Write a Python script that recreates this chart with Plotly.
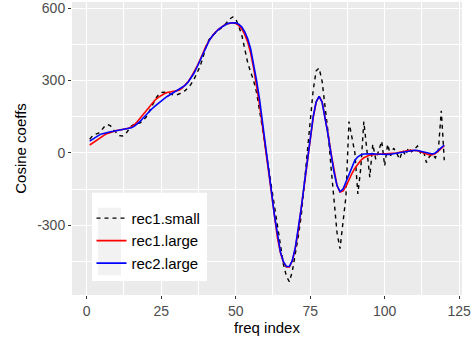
import plotly.graph_objects as go

freq = list(range(1, 121))

rec1_small = [
    57, 72, 78, 82, 95, 110, 118, 112, 95, 82,
    72, 70, 78, 95, 112, 120, 124, 125, 135, 150,
    172, 198, 222, 240, 250, 252, 250, 245, 240, 240,
    244, 250, 258, 270, 285, 305, 330, 357, 395, 440,
    468, 485, 496, 505, 515, 526, 540, 555, 563, 555,
    525, 490, 433, 375, 335, 300, 250, 180, 100, 20,
    -60, -150, -240, -320, -400, -460, -510, -533, -490, -420,
    -345, -260, -130, 10, 140, 260, 340, 351, 296, 200,
    85, -60, -200, -330, -396, -300, -180, 130, 60, 0,
    -170, -60, 130, 20, -100, 36, -26, 10, 49, -53,
    36, -12, 20, 0, -26, 10, -10, 22, 5, 15,
    29, 0, 10, -40, -15, -5, -20, 10, 175, -30,
]

rec1_large = [
    33, 42, 51, 60, 68, 75, 81, 86, 90, 93,
    95, 97, 99, 102, 108, 117, 130, 145, 162, 178,
    194, 208, 220, 230, 238, 245, 250, 252, 253, 255,
    260, 268, 280, 295, 313, 334, 358, 385, 414, 441,
    464, 483, 498, 510, 520, 528, 534, 538, 539, 536,
    528, 514, 492, 460, 415, 352, 280, 200, 110, 18,
    -78, -175, -268, -350, -412, -452, -472, -472, -447, -395,
    -320, -230, -132, -34, 60, 146, 210, 234, 212, 152,
    78, -2, -78, -135, -162, -158, -138, -110, -85, -63,
    -45, -30, -20, -13, -9, -7, -6, -6, -6, -6,
    -5, -4, -2, 0, 3, 6, 8, 10, 11, 11,
    9, 5, 0, -5, -8, -7, -2, 8, 20, 30,
]

rec2_large = [
    49, 58, 66, 73, 79, 83, 86, 88, 90, 92,
    94, 96, 98, 100, 104, 111, 120, 132, 146, 160,
    172, 184, 195, 206, 215, 225, 234, 242, 250, 257,
    264, 271, 280, 293, 310, 330, 355, 382, 412, 440,
    463, 482, 497, 509, 519, 528, 534, 538, 540, 539,
    533, 522, 502, 474, 432, 370, 300, 222, 132, 38,
    -60, -160, -258, -345, -410, -450, -470, -470, -445, -392,
    -318, -228, -130, -30, 65, 150, 212, 234, 210, 150,
    75, -5, -80, -135, -160, -150, -120, -85, -52, -30,
    -16, -8, -4, -3, -2, -3, -4, -5, -5, -6,
    -6, -5, -3, -1, 2, 5, 8, 10, 11, 11,
    10, 7, 3, -1, -4, -4, 0, 10, 22, 33,
]

x_ticks = [0, 25, 50, 75, 100, 125]
y_ticks = [600, 300, 0, -300]
y_ticktext = ["600", "300", "0", "-300"]

FONT = "Liberation Sans, Arial, sans-serif"

fig = go.Figure()
fig.add_trace(go.Scatter(x=freq, y=rec1_small, mode="lines", name="rec1.small",
                         line=dict(color="black", width=1.4, dash="4px,4px")))
fig.add_trace(go.Scatter(x=freq, y=rec1_large, mode="lines", name="rec1.large",
                         line=dict(color="red", width=1.6)))
fig.add_trace(go.Scatter(x=freq, y=rec2_large, mode="lines", name="rec2.large",
                         line=dict(color="blue", width=1.6)))

# legend box (white) and key background (light grey)
fig.add_shape(type="rect", xref="x domain", yref="y domain",
              x0=0.0513, x1=0.3462, y0=0.0475, y1=0.349,
              fillcolor="white", line=dict(width=0), layer="above")
fig.add_shape(type="rect", xref="x domain", yref="y domain",
              x0=0.0667, x1=0.1256, y0=0.0678, y1=0.298,
              fillcolor="#F2F2F2", line=dict(width=0), layer="above")

fig.update_layout(
    width=472, height=343,
    margin=dict(l=72, r=10, t=0, b=48),
    paper_bgcolor="white",
    plot_bgcolor="#EBEBEB",
    font=dict(family=FONT, size=13, color="#4D4D4D"),
    showlegend=True,
    legend=dict(
        x=0.05, y=0.318, xanchor="left", yanchor="top",
        bgcolor="rgba(0,0,0,0)", borderwidth=0,
        font=dict(family=FONT, size=15, color="black"),
        tracegroupgap=0,
    ),
)

fig.update_xaxes(
    range=[-4.95, 125.95], tickvals=x_ticks, ticks="outside", ticklen=3,
    tickcolor="#333333", tickwidth=1,
    showgrid=True, gridcolor="white", gridwidth=1.1,
    minor=dict(showgrid=True, gridcolor="white", gridwidth=0.5, dtick=12.5, tick0=12.5),
    zeroline=False, showline=False,
    tickfont=dict(size=14, color="#4D4D4D"),
    ticklabeloverflow="allow",
    title=dict(text="freq index", font=dict(size=15, color="black"), standoff=4),
)
fig.update_yaxes(
    range=[-588, 625], tickvals=y_ticks, ticktext=y_ticktext, ticks="outside", ticklen=3,
    tickcolor="#333333", tickwidth=1,
    showgrid=True, gridcolor="white", gridwidth=1.1,
    minor=dict(showgrid=True, gridcolor="white", gridwidth=0.5, tickvals=[-450, -150, 150, 450]),
    zeroline=False, showline=False,
    tickfont=dict(size=14, color="#4D4D4D"),
    ticklabeloverflow="allow",
    title=dict(text="Cosine coeffs", font=dict(size=15, color="black"), standoff=6),
)

fig.write_html("out.html")
